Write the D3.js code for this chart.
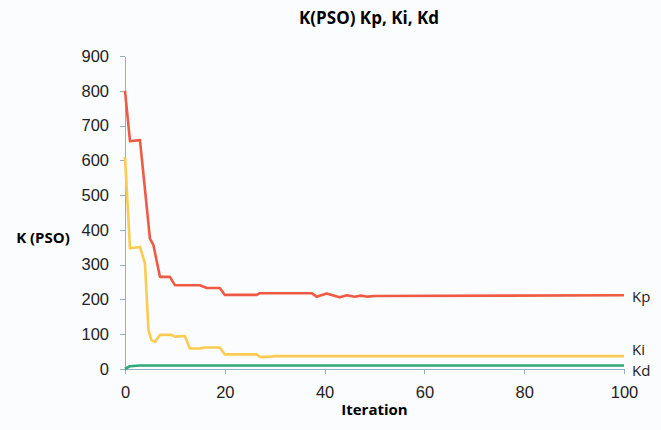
<!DOCTYPE html>
<html lang="en">
<head>
    <meta charset="UTF-8">
    <title>K(PSO) Kp, Ki, Kd</title>
    <script src="https://d3js.org/d3.v7.min.js"></script>
    <style>
        body { margin: 0; background: #fbfcfe; }
        svg { display: block; font-family: "Open Sans", sans-serif; }
        .axis path, .axis line { stroke: #8fb1c2; shape-rendering: crispEdges; }
        .axis text { fill: #222; font-size: 16.5px; }
    </style>
</head>
<body>
<svg width="661" height="430"></svg>
<script>
    // iteration / value pairs
    const kpIter = [0, 1, 3, 5, 5.7, 7, 9, 10, 15, 16.4, 19, 20, 26.4, 27, 37.4, 38.4, 40.4, 43, 44.5, 46, 47.3, 48.6, 50, 100];
    const kpVal  = [800, 655, 658, 375, 356, 265, 265, 241, 241, 233, 233, 213, 213, 218, 218, 208, 217, 206, 212, 208, 211, 208, 210, 212];
    const kiIter = [0, 1, 3, 4, 4.7, 5.3, 6, 7, 9.3, 10, 12, 13, 15, 16, 19, 20, 26.4, 27, 29, 30, 100];
    const kiVal  = [610, 347, 351, 304, 112, 83, 78, 98, 98, 93, 95, 59, 59, 62, 62, 42, 42, 35, 35, 37, 37];
    const kdIter = [0, 1, 3, 100];
    const kdVal  = [0, 8, 10, 10];
    const seriesNames = ["Kp", "Ki", "Kd"];
    const xTicks = [0, 20, 40, 60, 80, 100];
    const yTicks = [0, 100, 200, 300, 400, 500, 600, 700, 800, 900];

    const svg = d3.select("svg");
    const margin = {top: 56, right: 37, bottom: 61, left: 125};
    const width = +svg.attr("width") - margin.left - margin.right;
    const height = +svg.attr("height") - margin.top - margin.bottom;
    const g = svg.append("g").attr("transform", `translate(${margin.left},${margin.top})`);

    const x = d3.scaleLinear().domain([0, 100]).range([0, width]);
    const y = d3.scaleLinear().domain([0, 900]).range([height, 0]);

    g.append("g")
        .attr("class", "axis")
        .attr("transform", `translate(0,${height})`)
        .call(d3.axisBottom(x).tickValues(xTicks).tickSize(5).tickSizeOuter(0).tickPadding(12));

    g.append("g")
        .attr("class", "axis")
        .call(d3.axisLeft(y).tickValues(yTicks).tickSize(5).tickSizeOuter(0).tickPadding(11));

    const series = [
        {name: seriesNames[0], xs: kpIter, ys: kpVal, color: "#ef5a44", off: 1},
        {name: seriesNames[1], xs: kiIter, ys: kiVal, color: "#fdcb52", off: -6},
        {name: seriesNames[2], xs: kdIter, ys: kdVal, color: "#2fa97b", off: 5}
    ];

    const line = d3.line().x(d => x(d[0])).y(d => y(d[1]));

    series.forEach(s => {
        const pts = s.xs.map((v, i) => [v, s.ys[i]]);
        g.append("path")
            .datum(pts)
            .attr("fill", "none")
            .attr("stroke", s.color)
            .attr("stroke-width", 2.6)
            .attr("stroke-linejoin", "round")
            .attr("d", line);
        // label at the end of the line
        const last = pts[pts.length - 1];
        g.append("text")
            .attr("x", x(last[0]) + 8)
            .attr("y", y(last[1]) + s.off)
            .attr("dy", "0.35em")
            .attr("font-size", 15)
            .attr("fill", "#222")
            .text(s.name);
    });

    svg.append("text")
        .attr("x", 369).attr("y", 24)
        .attr("text-anchor", "middle")
        .attr("font-size", 17).attr("font-weight", "bold")
        .text("K(PSO) Kp, Ki, Kd");

    svg.append("text")
        .attr("x", 43).attr("y", 243)
        .attr("text-anchor", "middle")
        .attr("font-size", 15).attr("font-weight", "bold")
        .text("K (PSO)");

    svg.append("text")
        .attr("x", margin.left + width / 2).attr("y", 415)
        .attr("text-anchor", "middle")
        .attr("font-size", 15).attr("font-weight", "bold")
        .text("Iteration");
</script>
</body>
</html>
